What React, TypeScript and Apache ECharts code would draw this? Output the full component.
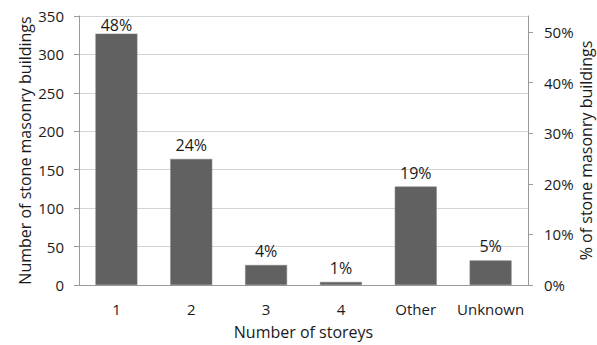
import React, { useEffect, useRef } from "react";
import * as echarts from "echarts";

const categories = ["1", "2", "3", "4", "Other", "Unknown"];
const buildingCounts = [327, 164, 26, 4, 128, 32];
const percentLabels = ["48%", "24%", "4%", "1%", "19%", "5%"];
const leftTicks = [0, 50, 100, 150, 200, 250, 300, 350];
const rightTicks = [0, 10, 20, 30, 40, 50];

const FONT = "'Open Sans', Lato, sans-serif";
const FS = 15;
const TITLE_FS = 16;
const LABEL_FS = 16;
const TEXT = "#1a1a1a";
const AXIS = "#9a9a9a";

export default function App() {
  const ref = useRef<HTMLDivElement>(null);
  useEffect(() => {
    if (!ref.current) return;
    const chart = echarts.init(ref.current, undefined, { renderer: "svg" });
    const barData = buildingCounts.map((v) => ({
      value: v,
      label: { distance: v >= 300 ? 1 : 6 },
    }));
    chart.setOption({
      animation: false,
      textStyle: { fontFamily: FONT },
      grid: { left: 79, right: 69, top: 16, bottom: 60, containLabel: false, outerBoundsMode: "none" },
      xAxis: {
        type: "category",
        data: categories,
        name: "Number of storeys",
        nameLocation: "middle",
        nameGap: 39,
        nameMoveOverlap: false,
        nameTextStyle: { color: TEXT, fontSize: TITLE_FS, fontFamily: FONT },
        axisLine: { show: true, lineStyle: { color: AXIS, width: 1 } },
        axisTick: { show: false },
        axisLabel: { color: TEXT, fontSize: FS, margin: 16, interval: 0, fontFamily: FONT },
      },
      yAxis: [
        {
          type: "value",
          min: leftTicks[0],
          max: leftTicks[leftTicks.length - 1],
          interval: 50,
          name: "Number of stone masonry buildings",
          nameLocation: "middle",
          nameGap: 46,
          nameMoveOverlap: false,
          nameTextStyle: { color: TEXT, fontSize: TITLE_FS, fontFamily: FONT },
          axisLine: { show: true, lineStyle: { color: AXIS, width: 1 } },
          axisTick: { show: true, length: 5, lineStyle: { color: AXIS } },
          axisLabel: { color: TEXT, fontSize: FS, margin: 15, fontFamily: FONT },
          splitLine: { show: true, lineStyle: { color: "#d4d4d4", width: 1 } },
        },
        {
          type: "value",
          position: "right",
          min: rightTicks[0],
          max: 53.2,
          interval: 10,
          name: "% of stone masonry buildings",
          nameLocation: "middle",
          nameGap: 50,
          nameRotate: 90,
          nameMoveOverlap: false,
          nameTextStyle: { color: TEXT, fontSize: TITLE_FS, fontFamily: FONT },
          axisLine: { show: true, lineStyle: { color: AXIS, width: 1 } },
          axisTick: { show: true, length: 5, lineStyle: { color: AXIS } },
          axisLabel: {
            color: TEXT,
            fontSize: FS,
            margin: 16,
            fontFamily: FONT,
            showMaxLabel: false,
            formatter: (v: number) => (rightTicks.includes(Math.round(v)) && Math.abs(v - Math.round(v)) < 1e-6 ? `${Math.round(v)}%` : ""),
          },
          splitLine: { show: false },
        },
      ],
      series: [
        {
          type: "bar",
          yAxisIndex: 0,
          data: barData,
          barCategoryGap: "44%",
          itemStyle: { color: "#616161", borderColor: "#7a7a7a", borderWidth: 0.5 },
          label: {
            show: true,
            position: "top",
            color: TEXT,
            fontSize: LABEL_FS,
            fontFamily: FONT,
            formatter: (p: any) => percentLabels[p.dataIndex],
          },
        },
      ],
    });
    return () => chart.dispose();
  }, []);
  return <div ref={ref} style={{ width: 597, height: 345, position: "absolute", left: 0, top: 0 }} />;
}
